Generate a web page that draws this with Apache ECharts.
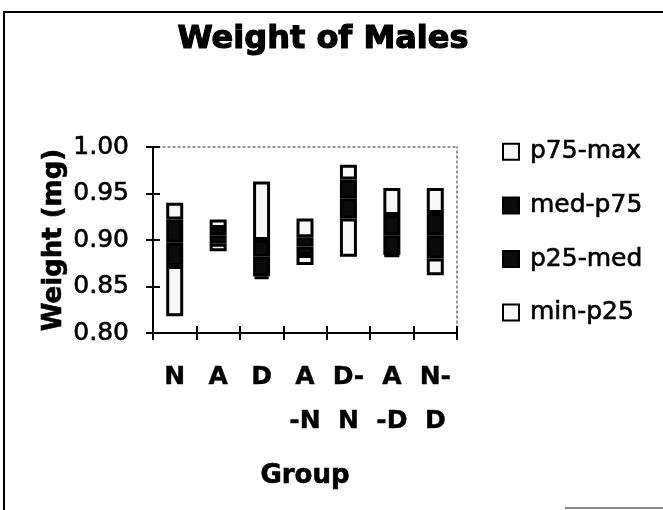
<!DOCTYPE html>
<html>
<head>
<meta charset="utf-8">
<script src="https://cdn.jsdelivr.net/npm/echarts@6/dist/echarts.min.js"></script>
<style>
  html, body { margin: 0; padding: 0; background: #fff; }
  #chart { width: 663px; height: 510px; }
</style>
</head>
<body>
<div id="chart"></div>
<script>
// Group labels (line breaks as printed under the axis)
const categories = ['N', 'A', 'D', 'A\n-N', 'D-\nN', 'A\n-D', 'N-\nD'];

// Five-number summaries of male weight (mg) per group
const mins    = [0.818, 0.888, 0.858, 0.873, 0.882, 0.882, 0.862];
const p25s    = [0.872, 0.896, 0.861, 0.884, 0.923, 0.884, 0.880];
const medians = [0.897, 0.905, 0.882, 0.893, 0.945, 0.905, 0.905];
const p75s    = [0.922, 0.913, 0.900, 0.903, 0.965, 0.927, 0.929];
const maxs    = [0.940, 0.922, 0.963, 0.923, 0.981, 0.956, 0.956];

const yTicks = ['0.80', '0.85', '0.90', '0.95', '1.00'];
const legendNames = ['p75-max', 'med-p75', 'p25-med', 'min-p25'];

const FONT = "'DejaVu Sans', Verdana, sans-serif";
const diff = (hi, lo) => hi.map((v, i) => +(v - lo[i]).toFixed(4));

const LIGHT = '#f7f7f7';
const DARK = '#0b0b0b';

// heavy black text, slightly thickened with an outline of its own colour
const ink = (size, bold, thick) => ({
  fontFamily: FONT,
  fontSize: size,
  fontWeight: bold ? 'bold' : 'normal',
  color: '#000',
  textBorderColor: '#000',
  textBorderWidth: thick
});

function segment(name, data, fill) {
  return {
    name: name,
    type: 'bar',
    stack: 'box',
    xAxisIndex: 0,
    yAxisIndex: 0,
    barWidth: 17,
    data: data,
    itemStyle: { color: fill, borderColor: '#000', borderWidth: 3 },
    emphasis: { disabled: true }
  };
}

const yMin = Number(yTicks[0]);
const yMax = Number(yTicks[yTicks.length - 1]);
const yStep = 0.05;

const chart = echarts.init(document.getElementById('chart'), null, { renderer: 'canvas' });

const option = {
  backgroundColor: '#fff',
  animation: false,
  textStyle: { fontFamily: FONT },
  title: {
    text: 'Weight of Males',
    left: 318,
    top: 19,
    textAlign: 'center',
    textStyle: ink(32, true, 1.2)
  },
  legend: {
    data: legendNames,
    orient: 'vertical',
    left: 497,
    top: 134,
    itemWidth: 16,
    itemHeight: 16,
    itemGap: 28,
    icon: 'rect',
    selectedMode: false,
    textStyle: Object.assign(ink(25, false, 0.6), { padding: [0, 0, 0, 6] })
  },
  grid: { left: 153, right: 206, top: 147, bottom: 177 },
  xAxis: [
    {
      type: 'category',
      data: categories,
      position: 'bottom',
      name: 'Group',
      nameLocation: 'middle',
      nameGap: 130,
      nameTextStyle: ink(26, true, 0.6),
      axisLine: { lineStyle: { color: '#000', width: 2 } },
      axisTick: { show: true, length: 7, lineStyle: { color: '#000', width: 2 } },
      axisLabel: Object.assign(ink(25, true, 0.4), {
        interval: 0,
        margin: 22,
        lineHeight: 44
      }),
      splitLine: { show: false }
    },
    {
      type: 'category',
      data: categories,
      position: 'bottom',
      axisLine: { show: false },
      axisTick: { show: true, inside: true, length: 7, lineStyle: { color: '#000', width: 2 } },
      axisLabel: { show: false },
      splitLine: { show: false }
    },
    {
      type: 'category',
      data: categories,
      position: 'top',
      axisLine: { show: true, lineStyle: { color: '#777', width: 1.5, type: [2, 3] } },
      axisTick: { show: false },
      axisLabel: { show: false },
      splitLine: { show: false }
    }
  ],
  yAxis: [
    {
      type: 'value',
      min: yMin,
      max: yMax,
      interval: yStep,
      position: 'left',
      name: 'Weight (mg)',
      nameLocation: 'middle',
      nameGap: 86,
      nameTextStyle: ink(26, true, 0.6),
      axisLine: { show: true, lineStyle: { color: '#000', width: 2 } },
      axisTick: { show: true, length: 7, lineStyle: { color: '#000', width: 2 } },
      axisLabel: Object.assign(ink(25, false, 0.6), {
        margin: 24,
        formatter: v => v.toFixed(2)
      }),
      splitLine: { show: false }
    },
    {
      type: 'value',
      min: yMin,
      max: yMax,
      interval: yStep,
      position: 'left',
      axisLine: { show: false },
      axisTick: { show: true, inside: true, length: 7, lineStyle: { color: '#000', width: 2 } },
      axisLabel: { show: false },
      splitLine: { show: false }
    },
    {
      type: 'value',
      min: yMin,
      max: yMax,
      interval: yStep,
      position: 'right',
      axisLine: { show: true, lineStyle: { color: '#777', width: 1.5, type: [2, 3] } },
      axisTick: { show: false },
      axisLabel: { show: false },
      splitLine: { show: false }
    }
  ],
  series: [
    {
      name: 'base',
      type: 'bar',
      stack: 'box',
      barWidth: 17,
      data: mins,
      silent: true,
      itemStyle: { color: 'rgba(0,0,0,0)', borderWidth: 0 },
      emphasis: { disabled: true }
    },
    segment('min-p25', diff(p25s, mins), LIGHT),
    segment('p25-med', diff(medians, p25s), DARK),
    segment('med-p75', diff(p75s, medians), DARK),
    segment('p75-max', diff(maxs, p75s), LIGHT)
  ],
  graphic: [
    {
      type: 'rect',
      shape: { x: 4, y: 12, width: 720, height: 560 },
      style: { fill: 'none', stroke: '#000', lineWidth: 2 },
      silent: true
    },
    {
      type: 'line',
      shape: { x1: 565, y1: 508, x2: 663, y2: 508 },
      style: { stroke: '#888', lineWidth: 2 },
      silent: true
    }
  ]
};

chart.setOption(option);
</script>
</body>
</html>
